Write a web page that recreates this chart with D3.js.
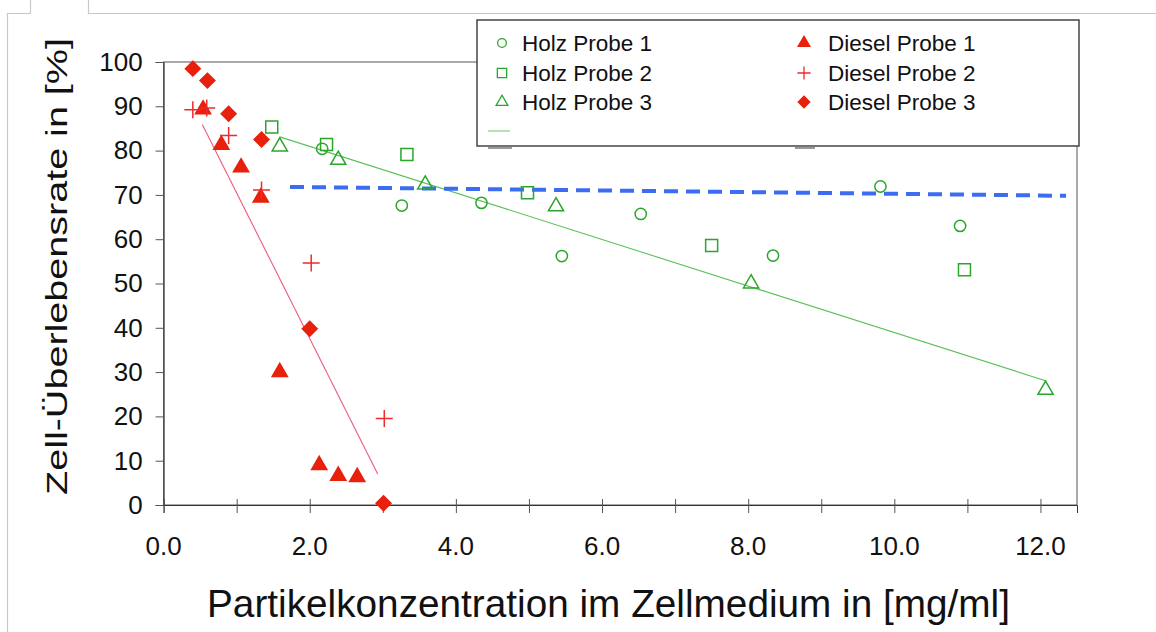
<!DOCTYPE html>
<html>
<head>
<meta charset="utf-8">
<script src="https://cdn.jsdelivr.net/npm/d3@7"></script>
<style>
    body { margin: 0; background: #ffffff; }
    #chart { width: 1156px; height: 632px; }
    text { font-family: Arial, "Liberation Sans", sans-serif; fill: #111; }
</style>
</head>
<body>
<div id="chart"></div>
<script>

// data: [concentration mg/ml, survival %]
const holz1 = [[2.17, 80.4], [3.26, 67.6], [4.35, 68.2], [5.45, 56.2], [6.53, 65.7], [8.34, 56.3], [9.81, 71.9], [10.9, 63.0]];
const holz2 = [[1.48, 85.3], [2.23, 81.4], [3.33, 79.1], [4.98, 70.5], [7.5, 58.6], [10.96, 53.1]];
const holz3 = [[1.59, 80.9], [2.39, 77.9], [3.58, 72.3], [5.37, 67.4], [8.04, 50.0], [12.07, 26.0]];
const diesel1 = [[0.54, 89.3], [0.79, 81.3], [1.06, 76.2], [1.33, 69.4], [1.59, 30.0], [2.13, 9.0], [2.39, 6.6], [2.65, 6.3]];
const diesel2 = [[0.40, 89.2], [0.59, 89.6], [0.89, 83.4], [1.34, 71.1], [2.02, 54.6], [3.02, 19.5]];
const diesel3 = [[0.40, 98.5], [0.60, 95.8], [0.89, 88.3], [1.34, 82.5], [2.00, 39.8], [3.01, 0.4]];

// trend lines (end points)
const holzTrend = [[1.59, 83.1], [12.08, 28.0]];
const dieselTrend = [[0.53, 85.9], [2.93, 7.0]];
const blueLine = [[1.73, 71.8], [12.35, 69.8]];

const xTicks = [0, 1, 2, 3, 4, 5, 6, 7, 8, 9, 10, 11, 12];
const yTicks = [0, 10, 20, 30, 40, 50, 60, 70, 80, 90, 100];

const legendLeft = ["Holz Probe 1", "Holz Probe 2", "Holz Probe 3"];
const legendRight = ["Diesel Probe 1", "Diesel Probe 2", "Diesel Probe 3"];

/*
SVG
*/
const width = 1156;
const height = 632;
const margin = {top: 62, left: 163.6, right: 79, bottom: 127};

const svg = d3.select("#chart")
    .append("svg")
    .attr("width", width)
    .attr("height", height);

/*
OUTER FRAME (light grey, as in the screenshot)
*/
const frame = svg.append("g")
    .attr("stroke", "#c8c8c8")
    .attr("stroke-width", 1.2)
    .attr("fill", "none");
frame.append("path").attr("d", "M7.5,632 V13.5 H30.5 V0");
frame.append("path").attr("d", "M88.5,0 V13.5 H1156");

/*
SCALES
*/
const xScale = d3.scaleLinear()
    .domain([0, 12.5])
    .range([margin.left, width - margin.right]);

const yScale = d3.scaleLinear()
    .domain([0, 100])
    .range([height - margin.bottom, margin.top]);

/*
PLOT BORDER
*/
svg.append("rect")
    .attr("x", xScale(0))
    .attr("y", yScale(100))
    .attr("width", xScale(12.5) - xScale(0))
    .attr("height", yScale(0) - yScale(100))
    .attr("fill", "none")
    .attr("stroke", "#555")
    .attr("stroke-width", 1);

/*
AXES
*/
const xAxis = svg.append("g")
    .attr("transform", `translate(0,${yScale(0)})`)
    .call(d3.axisBottom(xScale).tickValues(xTicks).tickSize(8).tickFormat(""));
xAxis.selectAll(".tick line").attr("y1", -6).attr("stroke", "#555");
xAxis.select(".domain").attr("stroke", "#333");

svg.append("g")
    .selectAll("text")
    .data(xTicks.filter(d => d % 2 === 0))
    .enter()
    .append("text")
        .attr("x", d => xScale(d))
        .attr("y", 555)
        .attr("text-anchor", "middle")
        .attr("font-size", 26)
        .text(d => d3.format(".1f")(d));

const yAxis = svg.append("g")
    .attr("transform", `translate(${xScale(0)},0)`)
    .call(d3.axisLeft(yScale).tickValues(yTicks).tickSize(8).tickPadding(13));
yAxis.selectAll(".tick line").attr("stroke", "#555");
yAxis.select(".domain").attr("stroke", "#333");
yAxis.selectAll(".tick text")
    .attr("font-size", 26)
    .attr("font-family", "Arial, 'Liberation Sans', sans-serif")
    .attr("fill", "#111");

/*
AXIS LABELS
*/
svg.append("text")
    .attr("x", 207)
    .attr("y", 617)
    .attr("font-size", 38.5)
    .attr("textLength", 803)
    .attr("lengthAdjust", "spacingAndGlyphs")
    .text("Partikelkonzentration im Zellmedium in [mg/ml]");

svg.append("text")
    .attr("transform", "translate(67,495) rotate(-90)")
    .attr("x", 0)
    .attr("y", 0)
    .attr("font-size", 30)
    .attr("textLength", 457)
    .attr("lengthAdjust", "spacingAndGlyphs")
    .text("Zell-Überlebensrate in [%]");

/*
LINES
*/
const line = d3.line()
    .x(d => xScale(d[0]))
    .y(d => yScale(d[1]));

svg.append("path")
    .datum(holzTrend)
    .attr("d", line)
    .attr("stroke", "#5cc05c")
    .attr("stroke-width", 1.1)
    .attr("fill", "none");

svg.append("path")
    .datum(dieselTrend)
    .attr("d", line)
    .attr("stroke", "#f0587a")
    .attr("stroke-width", 1.1)
    .attr("fill", "none");

svg.append("path")
    .datum(blueLine)
    .attr("d", line)
    .attr("stroke", "#3b6cf2")
    .attr("stroke-width", 4)
    .attr("stroke-dasharray", "14,8")
    .attr("fill", "none");

/*
MARKERS
*/
const plusSymbol = {
    draw: function(context, size) {
        const r = Math.sqrt(size) / 2;
        context.moveTo(-r, 0);
        context.lineTo(r, 0);
        context.moveTo(0, -r);
        context.lineTo(0, r);
    }
};

const green = "#2ba52b";
const red = "#e8200c";

const series = [
    {data: holz1, type: d3.symbolCircle, size: 100, fill: "none", stroke: green, rot: 0},
    {data: holz2, type: d3.symbolSquare, size: 144, fill: "none", stroke: green, rot: 0},
    {data: holz3, type: d3.symbolTriangle, size: 100, fill: "none", stroke: green, rot: 0},
    {data: diesel1, type: d3.symbolTriangle, size: 100, fill: red, stroke: red, rot: 0},
    {data: diesel2, type: plusSymbol, size: 289, fill: "none", stroke: "#f02a2a", rot: 0},
    {data: diesel3, type: d3.symbolSquare, size: 110, fill: red, stroke: red, rot: 45}
];

series.forEach(function(s) {
    svg.append("g")
        .selectAll("path")
        .data(s.data)
        .enter()
        .append("path")
            .attr("transform", d => `translate(${xScale(d[0])},${yScale(d[1])}) rotate(${s.rot})`)
            .attr("d", d3.symbol().type(s.type).size(s.size))
            .attr("fill", s.fill)
            .attr("stroke", s.stroke)
            .attr("stroke-width", 1.5);
});

/*
LEGEND
*/
const legend = svg.append("g");

legend.append("rect")
    .attr("x", 477)
    .attr("y", 20)
    .attr("width", 602)
    .attr("height", 126)
    .attr("fill", "#fff")
    .attr("stroke", "#444")
    .attr("stroke-width", 1.5);

// small shadow bits under the box
legend.append("line").attr("x1", 488).attr("x2", 512).attr("y1", 148).attr("y2", 148)
    .attr("stroke", "#777").attr("stroke-width", 1.5);
legend.append("line").attr("x1", 795).attr("x2", 815).attr("y1", 148).attr("y2", 148)
    .attr("stroke", "#777").attr("stroke-width", 1.5);

const rowY = [43, 73, 102];

legend.selectAll(".lt")
    .data(legendLeft)
    .enter()
    .append("text")
        .attr("x", 522)
        .attr("y", (d, i) => rowY[i] + 8)
        .attr("font-size", 22.5)
        .text(d => d);

legend.selectAll(".rt")
    .data(legendRight)
    .enter()
    .append("text")
        .attr("x", 828)
        .attr("y", (d, i) => rowY[i] + 8)
        .attr("font-size", 22.5)
        .text(d => d);

series.forEach(function(s, i) {
    const col = i < 3 ? 502 : 804;
    const row = rowY[i % 3];
    legend.append("path")
        .attr("transform", `translate(${col},${row}) rotate(${s.rot})`)
        .attr("d", d3.symbol().type(s.type).size(s.size * 0.6))
        .attr("fill", s.fill)
        .attr("stroke", s.stroke)
        .attr("stroke-width", 1.3);
});

legend.append("line")
    .attr("x1", 488)
    .attr("x2", 510)
    .attr("y1", 131)
    .attr("y2", 131)
    .attr("stroke", "#7fcf7f")
    .attr("stroke-width", 1.2);

</script>
</body>
</html>
